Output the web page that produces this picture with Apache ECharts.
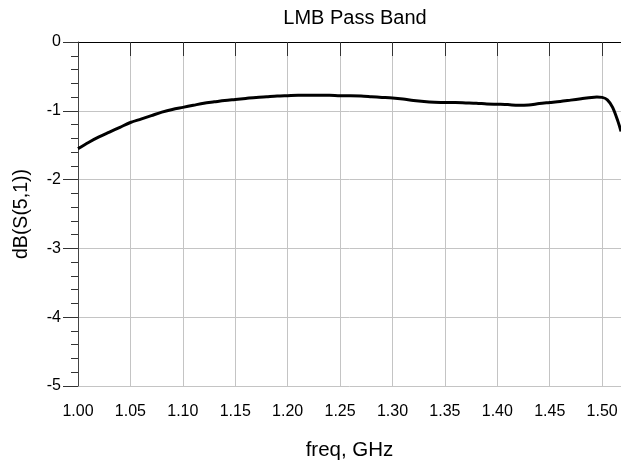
<!DOCTYPE html>
<html><head><meta charset="utf-8">
<script src="https://cdn.jsdelivr.net/npm/echarts@6/dist/echarts.min.js"></script>
<style>html,body{margin:0;padding:0;background:#fff}#c{width:621px;height:467px}</style>
</head><body><div id="c"></div>
<script>
var titleText = 'LMB Pass Band';
var xName = 'freq, GHz';
var yName = 'dB(S(5,1))';
var freq = [1.00,1.01,1.02,1.03,1.04,1.05,1.06,1.07,1.08,1.09,1.10,1.11,1.12,1.13,1.14,1.15,1.16,1.17,1.18,1.19,1.20,1.21,1.22,1.23,1.24,1.25,1.26,1.27,1.28,1.29,1.30,1.31,1.32,1.33,1.34,1.35,1.36,1.37,1.38,1.39,1.40,1.41,1.42,1.43,1.44,1.45,1.46,1.47,1.48,1.49,1.495,1.50,1.505,1.51,1.515,1.518];
var dB = [-1.55,-1.46,-1.38,-1.31,-1.24,-1.17,-1.12,-1.07,-1.02,-0.98,-0.95,-0.92,-0.89,-0.87,-0.85,-0.835,-0.82,-0.805,-0.795,-0.785,-0.78,-0.775,-0.775,-0.775,-0.775,-0.78,-0.78,-0.785,-0.795,-0.805,-0.815,-0.83,-0.85,-0.865,-0.875,-0.88,-0.88,-0.885,-0.89,-0.90,-0.905,-0.91,-0.92,-0.915,-0.895,-0.88,-0.865,-0.845,-0.825,-0.805,-0.80,-0.805,-0.84,-0.95,-1.15,-1.30];
var xMin = 1.00, xMax = 1.518, xStep = 0.05;
var yMin = -5, yMax = 0, yStep = 1;

var data = freq.map(function(f,i){return [f,dB[i]];});
var font = 'Liberation Sans, Arial, sans-serif';
var chart = echarts.init(document.getElementById('c'));
chart.setOption({
  animation:false,
  title:{text:titleText,left:350,top:3,textAlign:'center',textStyle:{fontFamily:font,fontSize:20,fontWeight:'normal',color:'#000'}},
  grid:{left:78,right:0,top:42,bottom:81},
  xAxis:[{
    type:'value',min:xMin,max:xMax,interval:xStep,
    name:xName,nameLocation:'middle',nameGap:54,
    nameTextStyle:{fontFamily:font,fontSize:20.5,color:'#000'},
    axisLine:{show:true,lineStyle:{color:'#000',width:1}},
    axisTick:{show:true,length:14,lineStyle:{color:'#333'}},
    axisLabel:{fontFamily:font,fontSize:16,color:'#000',margin:18,showMaxLabel:false,formatter:function(v){return v.toFixed(2);}},
    splitLine:{show:true,lineStyle:{color:'#c4c4c4',width:1}}
  },{
    type:'value',min:xMin,max:xMax,interval:xStep,position:'top',
    axisLine:{show:true,onZero:false,lineStyle:{color:'#000',width:1}},
    axisTick:{show:false},axisLabel:{show:false},splitLine:{show:false}
  }],
  yAxis:{
    type:'value',min:yMin,max:yMax,interval:yStep,
    name:yName,nameLocation:'middle',nameGap:46,
    nameTextStyle:{fontFamily:font,fontSize:19.5,color:'#000'},
    axisLine:{show:true,lineStyle:{color:'#444',width:1}},
    axisTick:{show:true,length:15,lineStyle:{color:'#333'}},
    minorTick:{show:true,splitNumber:5,length:7,lineStyle:{color:'#333'}},
    axisLabel:{fontFamily:font,fontSize:16,color:'#000',margin:17},
    splitLine:{show:true,lineStyle:{color:'#c4c4c4',width:1}}
  },
  series:[{
    type:'line',data:data,showSymbol:false,smooth:0.3,clip:true,
    lineStyle:{color:'#000',width:3}
  }]
});
</script></body></html>
